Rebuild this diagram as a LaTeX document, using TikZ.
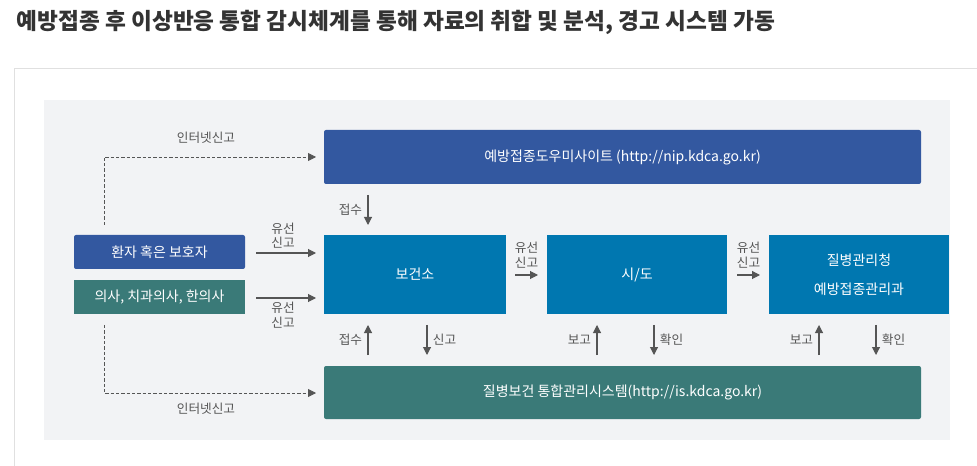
\documentclass[tikz,border=0pt]{standalone}
\usepackage{fontspec}
\setmainfont{Noto Sans CJK KR}
\usetikzlibrary{arrows.meta}
\definecolor{dblue}{HTML}{3358A0}
\definecolor{dteal}{HTML}{3A7A78}
\definecolor{mblue}{HTML}{0077B0}
\definecolor{panel}{HTML}{F2F3F5}
\definecolor{ln}{HTML}{555555}
\begin{document}
\begin{tikzpicture}[x=0.75pt,y=-0.75pt,
 box/.style={rounded corners=1.5pt,text=white,font=\fontsize{10.5}{12}\selectfont,align=center},
 arr/.style={draw=ln,line width=0.8pt,-{Triangle[length=6pt,width=6pt]}},
 darr/.style={arr,line width=0.6pt,dash pattern=on 2.5pt off 1.5pt},
 lbl/.style={text=ln,font=\fontsize{9.5}{11}\selectfont,align=center,inner sep=1pt}]
\useasboundingbox (0,0) rectangle (977,466);
\fill[white] (0,0) rectangle (977,466);
\node[anchor=west,font=\fontsize{17}{19}\selectfont\bfseries,text=black!80] (title) at (12,22) {예방접종 후 이상반응 통합 감시체계를 통해 자료의 취합 및 분석, 경고 시스템 가동};
\draw[black!12] (14,466) -- (14,68) -- (977,68);
\fill[panel] (44,100) rectangle (950,440);
\path[fill=dblue,box] (324,130) rectangle (921,184) node[midway,box] (web) {예방접종도우미사이트 (http://nip.kdca.go.kr)};
\path[fill=dteal,box] (324,366) rectangle (921,419) node[midway,box] (sys) {질병보건 통합관리시스템(http://is.kdca.go.kr)};
\path[fill=dblue,box] (74,235) rectangle (245,269) node[midway,box] (pat) {환자 혹은 보호자};
\path[fill=dteal,box,sharp corners] (74,280) rectangle (245,314) node[midway,box] (doc) {의사, 치과의사, 한의사};
\path[fill=mblue,box,sharp corners] (324,235) rectangle (506,314) node[midway,box] (bo) {보건소};
\path[fill=mblue,box,sharp corners] (547,235) rectangle (727,314) node[midway,box] (sido) {시/도};
\path[fill=mblue,box,sharp corners] (769,235) rectangle (949,314) node[midway,box,font=\fontsize{10.5}{22}\selectfont] (kdca) {질병관리청\\예방접종관리과};
\coordinate (d1) at (104,225); \coordinate (d1e) at (316,157);
\draw[darr] (d1) |- (d1e);
\coordinate (d2) at (104,325); \coordinate (d2e) at (316,393);
\draw[darr] (d2) |- (d2e);
\node[lbl] at (206,138) {인터넷신고};
\node[lbl] at (206,409) {인터넷신고};
\coordinate (a1) at (256,253); \coordinate (a1e) at (316,253);
\draw[arr] (a1) -- (a1e) node[lbl,pos=0.45,above=2pt] {유선\\신고};
\coordinate (a2) at (256,298); \coordinate (a2e) at (316,298);
\draw[arr] (a2) -- (a2e) node[lbl,pos=0.45,below=2pt] {유선\\신고};
\coordinate (b1) at (515,275); \coordinate (b1e) at (538,275);
\draw[arr] (b1) -- (b1e) node[lbl,pos=0.5,above=4pt] {유선\\신고};
\coordinate (c1) at (737,275); \coordinate (c1e) at (760,275);
\draw[arr] (c1) -- (c1e) node[lbl,pos=0.5,above=4pt] {유선\\신고};
\draw[arr] (368,195) -- (368,225) node[lbl,midway,left=3pt] {접수};
\draw[arr] (368,355) -- (368,325) node[lbl,midway,left=3pt] {접수};
\draw[arr] (427,325) -- (427,355) node[lbl,midway,right=3pt] {신고};
\draw[arr] (597,355) -- (597,325) node[lbl,midway,left=3pt] {보고};
\draw[arr] (654,325) -- (654,355) node[lbl,midway,right=3pt] {확인};
\draw[arr] (819,355) -- (819,325) node[lbl,midway,left=3pt] {보고};
\draw[arr] (876,325) -- (876,355) node[lbl,midway,right=3pt] {확인};
\end{tikzpicture}
\end{document}
